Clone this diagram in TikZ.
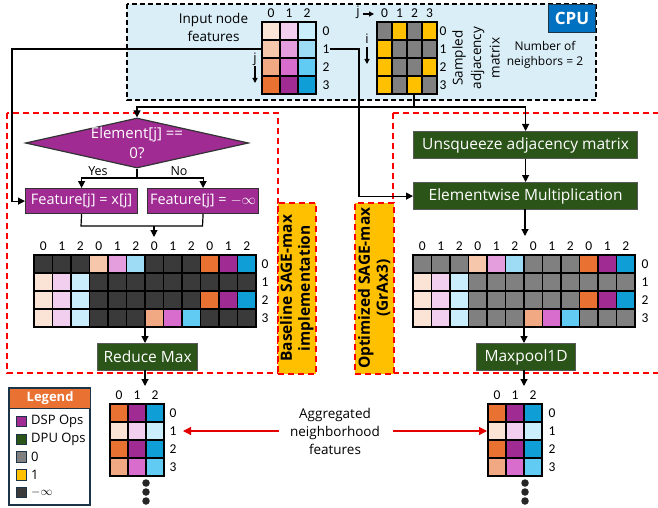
\documentclass[tikz,border=0pt]{standalone}
\usepackage{fontspec}
\setmainfont{Open Sans}
\newfontfamily\numfont{Carlito}
\usetikzlibrary{arrows.meta,shapes.geometric}
\definecolor{o0}{HTML}{FBE3D6}
\definecolor{o1}{HTML}{F7C7AC}
\definecolor{o2}{HTML}{F1A983}
\definecolor{o3}{HTML}{E97132}
\definecolor{p0}{HTML}{F2CFEE}
\definecolor{p1}{HTML}{E59EDD}
\definecolor{p2}{HTML}{D86DCD}
\definecolor{p3}{HTML}{A02B93}
\definecolor{b0}{HTML}{CAEEFB}
\definecolor{b1}{HTML}{9EDCF6}
\definecolor{b2}{HTML}{61CBF4}
\definecolor{b3}{HTML}{0F9ED5}
\definecolor{D}{HTML}{3A3A3A}
\definecolor{G}{HTML}{808080}
\definecolor{Y}{HTML}{FFC000}
\definecolor{dpug}{HTML}{2B5418}
\definecolor{cpubg}{HTML}{DAEEF8}
\definecolor{cpublue}{HTML}{0070C0}
\definecolor{navy}{HTML}{1B3447}
\newcommand\cellgrid[8]{%
  \foreach \rowlist [count=\r from 0] in {#8} {
    \foreach \cc [count=\k from 0] in \rowlist {
      \draw[cell, fill=\cc] ({#2+\k*#4},{#3+\r*#5}) rectangle ++(#4,#5);
    }
  }
  \node[inner sep=0, minimum width=#4*#6, minimum height=#5*#7, anchor=north west] (#1) at (#2,#3) {};
}
\begin{document}
\begin{tikzpicture}[x=1pt,y=-1pt,
  cell/.style={draw=black, line width=1.2pt},
  conn/.style={line width=1.2pt, black},
  arr/.style={conn, -{Triangle[length=7pt,width=7pt]}},
  redarr/.style={line width=1.2pt, red!90!black, -{Triangle[length=8pt,width=8pt]}},
  dpu/.style={draw=black!65, line width=1.2pt, fill=dpug, text=white, font=\fontsize{15.5}{18}\selectfont, inner sep=0, minimum height=27},
  dsp/.style={draw=black!80, line width=1.2pt, fill=p3, text=white, font=\fontsize{14.5}{17}\selectfont, inner sep=0, minimum height=25},
  num/.style={font=\numfont\fontsize{13.5}{15}\selectfont, inner sep=0},
  txt/.style={font=\fontsize{13.5}{18}\selectfont, inner sep=0, align=center},
  reddash/.style={draw=red, line width=1.5pt, dash pattern=on 6pt off 4pt},
  ylab/.style={fill=Y, reddash},
  ylabtxt/.style={font=\bfseries\fontsize{15.5}{18}\selectfont, align=center, rotate=90, inner sep=0},
  dot/.style={circle, fill=black!85, inner sep=0, minimum size=7.5},
  legsq/.style={draw=navy, line width=1.1pt, minimum size=10.5, inner sep=0},
  legtxt/.style={font=\fontsize{13}{15}\selectfont, inner sep=0, anchor=west}
]
\useasboundingbox (0,0) rectangle (658,508);
\fill[white] (0,0) rectangle (658,508);

% ---------- CPU region ----------
\draw[fill=cpubg, line width=1.3pt, dash pattern=on 5pt off 3pt] (127,4) rectangle (596,100);
\node[fill=cpublue, draw=navy, line width=1pt, text=white, font=\bfseries\fontsize{17}{19}\selectfont, minimum width=47, minimum height=28, inner sep=0, anchor=north east] (cpu) at (596,4) {CPU};

\node[txt] (inlab) at (213.5,27.5) {Input node\\features};
\cellgrid{feat}{262}{22}{18}{18}{3}{4}{{o0,p0,b0},{o1,p1,b1},{o2,p2,b2},{o3,p3,b3}}
\foreach \k in {0,1,2} \node[num] (fc\k) at ({262+(\k+0.5)*18},13) {\k};
\foreach \k in {0,1,2,3} \node[num] (fr\k) at (326,{31+\k*18}) {\k};
\node[font=\fontsize{13}{15}\selectfont, inner sep=0] (jlab) at (255,59) {j};
\coordinate (ja) at (255,66);
\coordinate (jb) at (255,83);
\draw[conn, -{Triangle[length=5pt,width=5pt]}] (ja) -- (jb);

\cellgrid{adj}{377}{22}{15}{18}{4}{4}{{G,Y,G,Y},{Y,G,G,G},{Y,G,G,Y},{Y,G,Y,G}}
\foreach \k in {0,1,2,3} \node[num] (ac\k) at ({377+(\k+0.5)*15},13) {\k};
\foreach \k in {0,1,2,3} \node[num] (ar\k) at (443,{31+\k*18}) {\k};
\node[font=\fontsize{13}{15}\selectfont, inner sep=0] (j2lab) at (358,12) {j};
\coordinate (j2a) at (363,14);
\coordinate (j2b) at (374,14);
\draw[conn, -{Triangle[length=5pt,width=5pt]}] (j2a) -- (j2b);
\node[font=\fontsize{13}{15}\selectfont, inner sep=0] (ilab) at (367,39) {i};
\coordinate (ia) at (367,47);
\coordinate (ib) at (367,64);
\draw[conn, -{Triangle[length=5pt,width=5pt]}] (ia) -- (ib);
\node[txt, rotate=90, font=\fontsize{13.5}{18.5}\selectfont] (sam) at (476,58) {Sampled\\adjacency\\matrix};
\node[txt, font=\fontsize{12}{15}\selectfont] (nnb) at (545,55) {Number of\\neighbors = 2};

% ---------- red regions ----------
\draw[reddash] (7,113) rectangle (278,373);
\draw[reddash] (393,113) -- (665,113);
\draw[reddash] (393,373) -- (665,373);
\draw[reddash] (393,113) -- (393,373);
\node[ylab, minimum width=38, minimum height=171, inner sep=0, anchor=north west] (blab) at (277,202) {};
\node[ylabtxt] (blabt) at (blab.center) {Baseline SAGE-max\\implementation};
\node[ylab, minimum width=39, minimum height=171, inner sep=0, anchor=north west] (olab) at (354,202) {};
\node[ylabtxt] (olabt) at (olab.center) {Optimized SAGE-max\\(GrAx3)};

% ---------- baseline flow ----------
\node[diamond, fill=p3, draw=black!80, line width=1.2pt, minimum width=223, minimum height=50, inner sep=0, aspect=4.46] (dia) at (137,143) {};
\node[txt, text=white, font=\fontsize{15}{20}\selectfont] (diat) at (137,143) {Element[j] ==\\0?};
\node[dsp, minimum width=112, anchor=north west] (f1) at (25,188) {Feature[j] = x[j]};
\node[dsp, minimum width=111, anchor=north west] (f2) at (147,188) {Feature[j] = $-\infty$};
\node[font=\fontsize{12.5}{14}\selectfont, inner sep=0] (yes) at (98,171) {Yes};
\node[font=\fontsize{12.5}{14}\selectfont, inner sep=0] (no) at (179,171) {No};

\cellgrid{lg}{34}{255}{18.5}{18}{12}{4}{{D,D,D,o1,p1,b1,D,D,D,o3,p3,b3},{o0,p0,b0,D,D,D,D,D,D,D,D,D},{o0,p0,b0,D,D,D,D,D,D,o3,p3,b3},{o0,p0,b0,D,D,D,o2,p2,b2,D,D,D}}
\foreach \k in {0,...,11} {\pgfmathtruncatemacro\lab{mod(\k,3)}\node[num] (lc\k) at ({34+(\k+0.5)*18.5},246) {\lab};}
\foreach \k in {0,1,2,3} \node[num] (lr\k) at (265,{264+\k*18}) {\k};
\node[dpu, minimum width=100, anchor=north west] (rmax) at (97,343) {Reduce Max};

% ---------- optimized flow ----------
\node[dpu, minimum width=224, anchor=north west] (us) at (413,131) {Unsqueeze adjacency matrix};
\node[dpu, minimum width=224, anchor=north west] (em) at (413,182) {Elementwise Multiplication};
\cellgrid{rg}{413}{255}{18.5}{18}{12}{4}{{G,G,G,o1,p1,b1,G,G,G,o3,p3,b3},{o0,p0,b0,G,G,G,G,G,G,G,G,G},{o0,p0,b0,G,G,G,G,G,G,o3,p3,b3},{o0,p0,b0,G,G,G,o2,p2,b2,G,G,G}}
\foreach \k in {0,...,11} {\pgfmathtruncatemacro\lab{mod(\k,3)}\node[num] (rc\k) at ({413+(\k+0.5)*18.5},246) {\lab};}
\foreach \k in {0,1,2,3} \node[num] (rr\k) at (645,{264+\k*18}) {\k};
\node[dpu, minimum width=99, anchor=north west] (mp) at (476,343) {Maxpool1D};

% ---------- outputs ----------
\cellgrid{bl}{110}{404}{18}{18}{3}{4}{{o3,p3,b3},{o0,p0,b0},{o3,p3,b3},{o2,p2,b2}}
\foreach \k in {0,1,2} \node[num] (blc\k) at ({110+(\k+0.5)*18},395) {\k};
\foreach \k in {0,1,2,3} \node[num] (blr\k) at (173,{413+\k*18}) {\k};
\foreach \k in {0,1,2} \node[dot] (bld\k) at (146,{483+\k*9}) {};
\cellgrid{br}{488}{404}{18}{18}{3}{4}{{o3,p3,b3},{o0,p0,b0},{o3,p3,b3},{o2,p2,b2}}
\foreach \k in {0,1,2} \node[num] (brc\k) at ({488+(\k+0.5)*18},395) {\k};
\foreach \k in {0,1,2,3} \node[num] (brr\k) at (552,{413+\k*18}) {\k};
\foreach \k in {0,1,2} \node[dot] (brd\k) at (525,{483+\k*9}) {};
\node[txt, font=\fontsize{13.5}{18}\selectfont] (agg) at (335,431) {Aggregated\\neighborhood\\features};

% ---------- connectors ----------
\coordinate (featr1) at (262,49);
\coordinate (c1) at (12,49);
\draw[arr] (featr1) -- (c1) |- (f1.west);
\coordinate (c2) at (359,49);
\draw[arr] (fr1.east) -- (c2) |- (em.west);
\coordinate (adjb) at (414,94);
\coordinate (c3) at (414,107);
\draw[conn] (adjb) -- (c3);
\draw[arr] (c3) -| (dia.north);
\draw[arr] (c3) -| (us.north);
\coordinate (yn) at (137,178);
\draw[conn] (dia.south) -- (yn);
\draw[arr] (yn) -| (f1.north);
\draw[arr] (yn) -| (f2.north);
\coordinate (mg) at (154,226);
\coordinate (mgl) at (81,226);
\coordinate (mgr) at (202.5,226);
\coordinate (lgin) at (154,237);
\draw[conn] (f1.south) -- (mgl) -- (mgr) -- (f2.south);
\draw[arr] (mg) -- (lgin);
\coordinate (lgout) at (145,327);
\draw[arr] (lgout) -- (rmax.north -| lgout);
\coordinate (rmo) at (145,370);
\coordinate (blin) at (145,386);
\draw[arr] (rmo) -- (blin);
\draw[arr] (us.south) -- (em.north);
\coordinate (emo) at (525,209);
\coordinate (rgin) at (525,236);
\draw[arr] (emo) -- (rgin);
\coordinate (rgout) at (524,327);
\draw[arr] (rgout) -- (mp.north -| rgout);
\coordinate (mpo) at (524,370);
\coordinate (brin) at (524,386);
\draw[arr] (mpo) -- (brin);
\coordinate (aggl) at (279,431);
\coordinate (aggr) at (393,431);
\coordinate (blarr) at (183,431);
\coordinate (brarr) at (487,431);
\draw[redarr] (aggl) -- (blarr);
\draw[redarr] (aggr) -- (brarr);

% ---------- legend ----------
\draw[navy, line width=1.2pt, fill=white] (9,388) rectangle (90,505);
\node[fill=o3, draw=navy, line width=1.2pt, minimum width=81, minimum height=20, inner sep=0, anchor=north west, text=white, font=\bfseries\fontsize{13}{15}\selectfont] (leg) at (9,388) {Legend};
\node[legsq, fill=p3] (l1) at (21.5,421.5) {};
\node[legtxt] (l1t) at (31,421.5) {DSP Ops};
\node[legsq, fill=dpug] (l2) at (21.5,439.5) {};
\node[legtxt] (l2t) at (31,439.5) {DPU Ops};
\node[legsq, fill=G] (l3) at (21.5,457) {};
\node[legtxt] (l3t) at (31,457) {0};
\node[legsq, fill=Y] (l4) at (21.5,475) {};
\node[legtxt] (l4t) at (31,475) {1};
\node[legsq, fill=D] (l5) at (21.5,492.5) {};
\node[legtxt] (l5t) at (31,492.5) {$-\infty$};
\end{tikzpicture}
\end{document}
